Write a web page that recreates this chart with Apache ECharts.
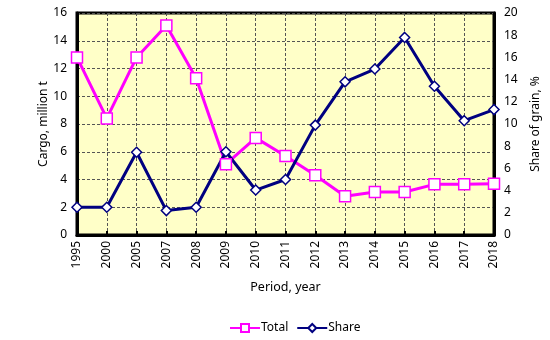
<!DOCTYPE html>
<html><head><meta charset="utf-8">
<script src="https://cdn.jsdelivr.net/npm/echarts@6/dist/echarts.min.js"></script>
<style>html,body{margin:0;padding:0;background:#fff}#c{width:550px;height:340px}</style>
</head><body><div id="c"></div>
<script>
var categories = ['1995','2000','2005','2007','2008','2009','2010','2011','2012','2013','2014','2015','2016','2017','2018'];
var totalValues = [12.8, 8.4, 12.8, 15.1, 11.3, 5.1, 7.0, 5.7, 4.3, 2.8, 3.1, 3.1, 3.65, 3.65, 3.7];
var shareValues = [2.5, 2.5, 7.45, 2.2, 2.5, 7.5, 4.05, 5.0, 9.9, 13.8, 14.95, 17.8, 13.4, 10.3, 11.3];
var F = 'Noto Sans';
var chart = echarts.init(document.getElementById('c'));
chart.setOption({
  animation: false,
  textStyle: {fontFamily: F},
  grid: {left: 77, right: 50, top: 13, bottom: 105, show: true, backgroundColor: '#FFFFC8', borderColor: '#000', borderWidth: 3},
  legend: {
    bottom: 1, left: 224, itemWidth: 30, itemHeight: 10, itemGap: 8,
    textStyle: {fontFamily: F, fontSize: 12, color: '#000', padding: [0, 0, 0, -4]},
    data: [{name: 'Total'}, {name: 'Share'}]
  },
  xAxis: {
    type: 'category', data: categories, boundaryGap: false,
    name: 'Period, year', nameLocation: 'middle', nameGap: 46,
    nameTextStyle: {fontSize: 12.5, color: '#000', fontFamily: F},
    axisLine: {lineStyle: {color: '#000', width: 3}},
    axisTick: {inside: true, length: 4, lineStyle: {color: '#000', width: 2}},
    axisLabel: {rotate: 90, fontSize: 12, color: '#000', margin: 6},
    splitLine: {show: true, lineStyle: {color: '#555', type: [3, 2], width: 1}}
  },
  yAxis: [
    {type: 'value', min: 0, max: 16, interval: 2,
     name: 'Cargo, million t', nameLocation: 'middle', nameGap: 27, nameMoveOverlap: false,
     nameTextStyle: {fontSize: 12, color: '#000', fontFamily: F},
     axisLine: {show: true, lineStyle: {color: '#000', width: 3}},
     axisTick: {show: false},
     axisLabel: {fontSize: 12, color: '#000', margin: 10},
     splitLine: {show: true, lineStyle: {color: '#555', type: [3, 2], width: 1}}},
    {type: 'value', min: 0, max: 20, interval: 2, position: 'right',
     name: 'Share of grain, %', nameLocation: 'middle', nameGap: 36, nameRotate: 90, nameMoveOverlap: false,
     nameTextStyle: {fontSize: 12, color: '#000', fontFamily: F},
     axisLine: {show: true, lineStyle: {color: '#000', width: 3}},
     axisTick: {show: false},
     axisLabel: {fontSize: 12, color: '#000', margin: 10},
     splitLine: {show: false}}
  ],
  series: [
    {name: 'Total', type: 'line', data: totalValues, yAxisIndex: 0,
     symbol: 'rect', symbolSize: 11,
     lineStyle: {color: '#FF00FF', width: 3},
     itemStyle: {color: '#fff', borderColor: '#FF00FF', borderWidth: 1.5}},
    {name: 'Share', type: 'line', data: shareValues, yAxisIndex: 1,
     symbol: 'diamond', symbolSize: 10,
     lineStyle: {color: '#000080', width: 3},
     itemStyle: {color: '#fff', borderColor: '#000080', borderWidth: 1.5}, z: 3}
  ]
});
</script></body></html>
